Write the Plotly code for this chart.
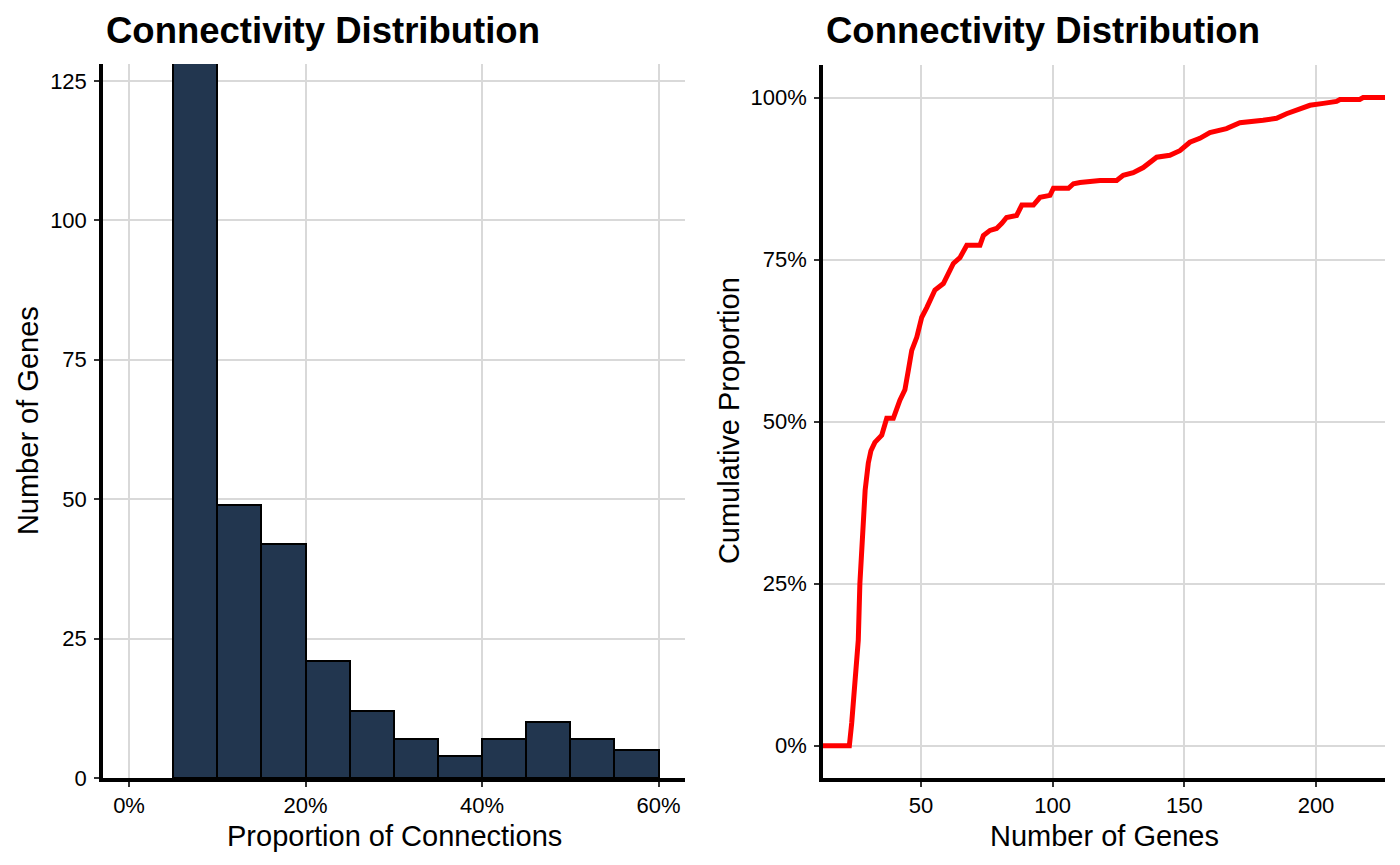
import plotly.graph_objects as go

# histogram of connection proportions (bin edges every 5%)
bin_left = [0.05, 0.10, 0.15, 0.20, 0.25, 0.30, 0.35, 0.40, 0.45, 0.50, 0.55]
gene_counts = [136, 49, 42, 21, 12, 7, 4, 7, 10, 7, 5]
bin_width = 0.05

# cumulative distribution of number of genes (traced curve vertices)
n_genes = [12.8, 22.8, 23.7, 24.9, 26.2, 26.8, 27.9, 28.8, 30.0, 31.0, 32.5, 35.1,
           37.0, 39.5, 42.0, 43.9, 45.2, 46.5, 48.4, 50.3, 52.2, 55.3, 58.5, 60.4, 62.3,
           64.8, 67.4, 72.4, 73.7, 76.2, 78.7, 80.7, 82.5, 86.3, 88.3, 92.7, 95.2, 99.0,
           100.3, 106.0, 107.9, 110.4, 118.0, 124.3, 126.8, 130.6, 134.4, 139.5, 144.5,
           148.3, 152.1, 155.9, 159.7, 166.0, 171.1, 179.9, 185.0, 188.8, 193.9, 197.7,
           202.8, 207.8, 209.1, 216.6, 217.9, 226.2]
cum_prop = [0.0, 0.0, 0.035, 0.10, 0.163, 0.25, 0.317, 0.394, 0.436, 0.455, 0.468, 0.479,
            0.505, 0.505, 0.533, 0.549, 0.579, 0.61, 0.63, 0.661, 0.676, 0.703, 0.713, 0.729, 0.744,
            0.753, 0.772, 0.772, 0.787, 0.795, 0.798, 0.806, 0.815, 0.818, 0.834, 0.834, 0.846, 0.849,
            0.86, 0.86, 0.867, 0.869, 0.872, 0.872, 0.88, 0.884, 0.892, 0.908, 0.911,
            0.918, 0.931, 0.937, 0.946, 0.952, 0.961, 0.965, 0.968, 0.975, 0.983, 0.988,
            0.991, 0.994, 0.997, 0.997, 1.0, 1.0]

# page has an 8px body margin; the capture squeezes the page a bit vertically
OFF = 8
SQ = 0.985
W, H = 1400 - 2 * OFF, 865
FONT = "Liberation Sans, Arial, Helvetica, sans-serif"
GRID = "#d9d9d9"


def px(x):
    return (x - OFF) / W


def py(y):
    return 1 - (y / SQ - OFF) / H


fig = go.Figure()

fig.add_trace(go.Bar(
    x=[b + bin_width / 2 for b in bin_left], y=gene_counts, width=bin_width,
    marker=dict(color="#22364f", line=dict(color="black", width=2)),
    xaxis="x", yaxis="y", showlegend=False
))

fig.add_trace(go.Scatter(
    x=n_genes, y=cum_prop, mode="lines",
    line=dict(color="#ff0000", width=5),
    xaxis="x2", yaxis="y2", showlegend=False
))

axis_common = dict(
    showline=True, linecolor="black", linewidth=3.5,
    ticks="outside", ticklen=5, tickwidth=1.5, tickcolor="#333333",
    showgrid=True, gridcolor=GRID, gridwidth=1.8,
    zeroline=False, tickfont=dict(size=22, color="black", family=FONT),
)

fig.update_layout(
    width=W, height=H,
    margin=dict(l=0, r=0, t=0, b=0),
    plot_bgcolor="white", paper_bgcolor="white",
    font=dict(family=FONT, color="black"),
    bargap=0,
    xaxis=dict(domain=[px(103), px(685)], range=[-0.0295, 0.63], ticklabelstandoff=0,
               tickvals=[0, 0.2, 0.4, 0.6], tickformat=".0%", anchor="y", **axis_common),
    yaxis=dict(domain=[py(778), py(64)], range=[0, 128], ticklabelstandoff=3,
               tickvals=[0, 25, 50, 75, 100, 125], anchor="x", **axis_common),
    xaxis2=dict(domain=[px(823), px(1385)], range=[12.8, 226.2], ticklabelstandoff=0,
                tickvals=[50, 100, 150, 200], anchor="y2", **axis_common),
    yaxis2=dict(domain=[py(778), py(65)], range=[-0.05, 1.05], ticklabelstandoff=3,
                tickvals=[0, 0.25, 0.5, 0.75, 1.0], tickformat=".0%", anchor="x2", **axis_common),
)

titles = [
    dict(text="<b>Connectivity Distribution</b>", x=px(104), y=py(30), xanchor="left",
         yanchor="middle", font=dict(size=36.5)),
    dict(text="<b>Connectivity Distribution</b>", x=px(824), y=py(30), xanchor="left",
         yanchor="middle", font=dict(size=36.5)),
    dict(text="Proportion of Connections", x=px(394), y=py(836), xanchor="center",
         yanchor="middle", font=dict(size=29)),
    dict(text="Number of Genes", x=px(1104), y=py(836), xanchor="center",
         yanchor="middle", font=dict(size=29)),
    dict(text="Number of Genes", x=px(28), y=py(421), xanchor="center",
         yanchor="middle", textangle=-90, font=dict(size=29)),
    dict(text="Cumulative Proportion", x=px(729), y=py(421), xanchor="center",
         yanchor="middle", textangle=-90, font=dict(size=29)),
]
for t in titles:
    t.update(xref="paper", yref="paper", showarrow=False)
    t["font"].update(family=FONT, color="black")
fig.update_layout(annotations=titles)

fig.write_html("out.html")
